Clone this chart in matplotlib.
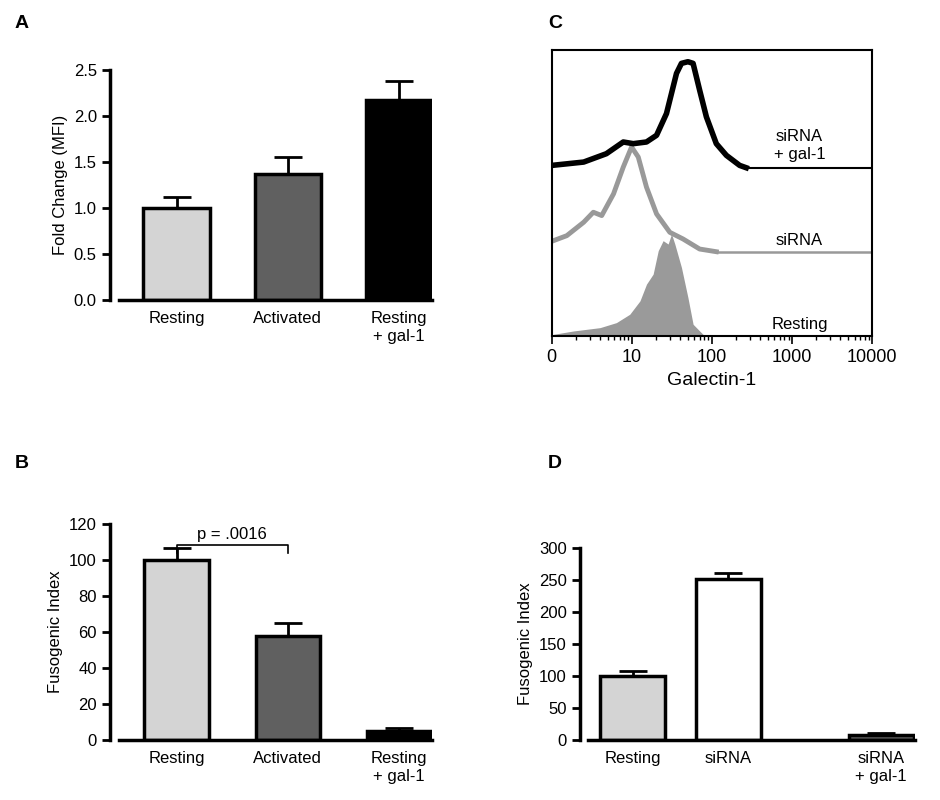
import matplotlib
matplotlib.use("Agg")
import matplotlib.pyplot as plt
import numpy as np

plt.rcParams['font.family'] = ['Liberation Sans', 'DejaVu Sans']
plt.rcParams['font.size'] = 12

# Panel A
a_labels = ["Resting", "Activated", "Resting\n+ gal-1"]
a_vals = [1.0, 1.37, 2.17]
a_err = [0.12, 0.18, 0.21]
a_colors = ["#d4d4d4", "#606060", "#000000"]
# Panel B
b_labels = ["Resting", "Activated", "Resting\n+ gal-1"]
b_vals = [100, 58, 5]
b_err = [6.5, 7, 1.5]
# Panel D
d_labels = ["Resting", "siRNA", "siRNA\n+ gal-1"]
d_vals = [100, 252, 8]
d_err = [8, 9, 3]
d_colors = ["#d4d4d4", "#ffffff", "#606060"]
# Panel C histograms (fluorescence, relative height)
gal_x = [1, 2.5, 4.8, 7.8, 10.4, 15.2, 20.3, 27, 36, 41.5, 50, 58, 70, 85, 113, 151, 221, 267, 10000]
gal_y = [7, 17, 42, 77, 72, 77, 97, 162, 282, 312, 317, 312, 232, 152, 72, 37, 7, 0, 0]
si_x = [1.05, 1.54, 2.5, 3.3, 4.2, 5.9, 7.8, 9.9, 12, 15.2, 20.3, 29.7, 43.5, 70, 113, 10000]
si_y = [33, 48, 88, 118, 108, 173, 253, 313, 283, 193, 113, 58, 38, 8, 0, 0]
rest_x = [1.05, 1.86, 4.0, 6.4, 9.4, 12.6, 15.2, 18.4, 21.3, 24.5, 28.3, 31.2, 34.3, 41.5, 50, 58, 77, 85]
rest_y = [5, 15, 25, 40, 65, 105, 155, 185, 255, 285, 275, 305, 275, 205, 115, 35, 5, 0]
gal_base, si_base = 503, 252

fig = plt.figure(figsize=(9.4, 8), dpi=100)

def bar_panel(ax, labels, vals, errs, colors, pos, ylim, yticks, fmt, xlim, width):
    ax.bar(pos, vals, width=width, color=colors, edgecolor='black', linewidth=2.5, zorder=2)
    ax.errorbar(pos, vals, yerr=[np.zeros(len(errs)), errs], fmt='none', ecolor='black',
                elinewidth=2, capsize=10, capthick=2, zorder=1)
    ax.set_xlim(*xlim)
    ax.set_ylim(*ylim)
    ax.set_yticks(yticks)
    ax.set_yticklabels([fmt.format(t) for t in yticks])
    ax.set_xticks(pos)
    ax.set_xticklabels(labels)
    for s in ['top', 'right']:
        ax.spines[s].set_visible(False)
    for s in ['left', 'bottom']:
        ax.spines[s].set_linewidth(2.5)
    ax.spines['bottom'].set_bounds(xlim[0] + 0.08, xlim[1])
    ax.spines['left'].set_bounds(ylim[0], yticks[-1])
    ax.tick_params(axis='y', width=2, length=6)
    ax.tick_params(axis='x', length=0, pad=8)

axA = fig.add_axes([0.117, 0.625, 0.343, 0.2875])
bar_panel(axA, a_labels, a_vals, a_err, a_colors, [0, 1, 2], (0, 2.5), [0, 0.5, 1.0, 1.5, 2.0, 2.5], "{:.1f}",
          (-0.6, 2.3), 0.6)
axA.set_ylabel("Fold Change (MFI)")

axB = fig.add_axes([0.117, 0.075, 0.343, 0.27])
bar_panel(axB, b_labels, b_vals, b_err, a_colors, [0, 1, 2], (0, 120), [0, 20, 40, 60, 80, 100, 120], "{:d}",
          (-0.6, 2.3), 0.58)
axB.set_ylabel("Fusogenic Index")
axB.plot([0, 0, 1, 1], [104, 108.5, 108.5, 104], color='black', lw=1.2)
axB.text(0.5, 110, "p = .0016", ha='center', va='bottom')

axD = fig.add_axes([0.617, 0.075, 0.356, 0.24])
bar_panel(axD, d_labels, d_vals, d_err, d_colors, [0, 1, 2.6], (0, 300), [0, 50, 100, 150, 200, 250, 300], "{:d}",
          (-0.55, 2.95), 0.68)
axD.set_ylabel("Fusogenic Index")

axC = fig.add_axes([0.587, 0.58, 0.341, 0.3575])
axC.set_xscale('log')
axC.fill_between(rest_x, rest_y, 0, color='#9a9a9a', lw=0)
axC.plot(si_x[:-1], np.array(si_y[:-1]) + si_base, color='#999999', lw=3.5)
axC.plot(si_x[-2:], np.array(si_y[-2:]) + si_base, color='#999999', lw=1.8)
axC.plot(gal_x[:-1], np.array(gal_y[:-1]) + gal_base, color='black', lw=4)
axC.plot(gal_x[-2:], np.array(gal_y[-2:]) + gal_base, color='black', lw=1.5)
axC.set_xlim(1, 10000)
axC.set_ylim(0, 855)
axC.set_yticks([])
axC.set_xticks([1, 10, 100, 1000, 10000])
axC.set_xticklabels(["0", "10", "100", "1000", "10000"], fontsize=13)
axC.tick_params(axis='x', which='major', length=6, width=1.2)
axC.tick_params(axis='x', which='minor', length=3, width=1)
for s in axC.spines.values():
    s.set_linewidth(1.5)
axC.set_xlabel("Galectin-1", fontsize=14)
axC.text(10**3.09, 570, "siRNA\n+ gal-1", ha='center', va='center', fontsize=12)
axC.text(10**3.09, 285, "siRNA", ha='center', va='center', fontsize=12)
axC.text(10**3.09, 35, "Resting", ha='center', va='center', fontsize=12)

for lab, x, y in [("A", 15, 15), ("B", 15, 455), ("C", 548, 15), ("D", 548, 455)]:
    fig.text(x / 940, 1 - y / 800, lab, fontsize=14, fontweight='bold', va='top')

fig.savefig("out.png", dpi=100)
